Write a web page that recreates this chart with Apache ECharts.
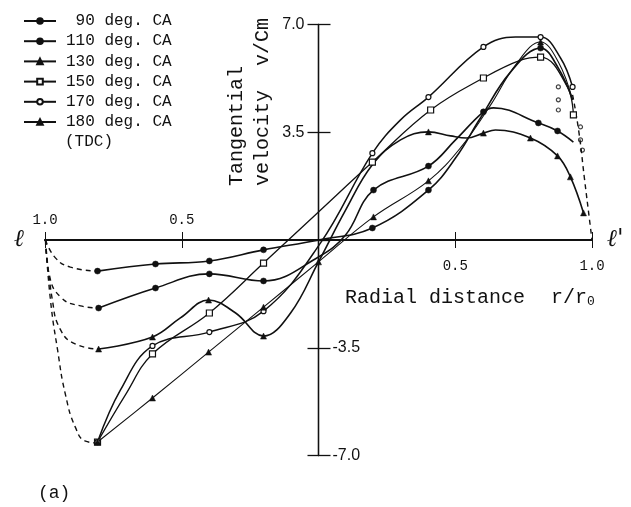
<!DOCTYPE html>
<html>
<head>
<meta charset="utf-8">
<script src="https://cdn.jsdelivr.net/npm/echarts/dist/echarts.min.js"></script>
<style>
  html, body { margin: 0; padding: 0; background: #fff; }
  #chart { width: 631px; height: 507px; }
</style>
</head>
<body>
<div id="chart"></div>
<script>
// Tangential velocity v/Cm across the cylinder, from wall l (left, r/r0 = 1.0)
// through the axis (0) to wall l' (right, r/r0 = 1.0).
// Positions are signed: negative values lie on the l side.

const seriesNames = [' 90 deg. CA', '110 deg. CA', '130 deg. CA', '150 deg. CA', '170 deg. CA', '180 deg. CA'];

const pos90  = [-0.808, -0.596, -0.399, -0.201, 0, 0.197, 0.402, 0.501, 0.592, 0.702, 0.812, 0.877, 0.929];
const vel90  = [-1.01, -0.78, -0.68, -0.32, 0, 0.39, 1.62, 2.66, 3.96, 5.45, 6.23, 5.58, 4.55];
const meas90 = [0, 1, 2, 3, 5, 6, 10];

const pos110  = [-0.804, -0.596, -0.399, -0.201, 0, 0.099, 0.201, 0.402, 0.501, 0.603, 0.640, 0.804, 0.874, 0.932];
const vel110  = [-2.21, -1.56, -1.10, -1.33, -0.55, 0.16, 1.62, 2.40, 3.25, 4.16, 4.29, 3.80, 3.54, 3.18];
const meas110 = [0, 1, 2, 3, 6, 7, 9, 11, 12];

const pos130  = [-0.804, -0.607, -0.505, -0.402, -0.303, -0.201, -0.102, 0, 0.099, 0.197, 0.300, 0.402, 0.483, 0.541, 0.603, 0.647, 0.775, 0.874, 0.921, 0.969];
const vel130  = [-3.54, -3.15, -2.53, -1.95, -2.37, -3.12, -2.37, -0.71, 0.97, 2.44, 3.25, 3.51, 3.38, 3.31, 3.47, 3.57, 3.31, 2.73, 2.05, 0.88];
const meas130 = [0, 1, 3, 5, 11, 14, 16, 17, 18, 19];

const pos150  = [-0.808, -0.706, -0.607, -0.399, -0.201, 0, 0.197, 0.410, 0.603, 0.739, 0.812, 0.910, 0.932];
const vel150  = [-6.56, -5.03, -3.70, -2.37, -0.75, 0.91, 2.53, 4.22, 5.26, 5.84, 5.94, 4.97, 4.06];
const meas150 = [0, 2, 3, 4, 6, 7, 8, 10, 12];

const pos170  = [-0.808, -0.724, -0.607, -0.399, -0.201, 0.007, 0.197, 0.300, 0.402, 0.603, 0.720, 0.812, 0.885, 0.929];
const vel170  = [-6.56, -4.87, -3.44, -2.99, -2.31, -0.10, 2.82, 3.90, 4.64, 6.27, 6.59, 6.59, 5.91, 4.97];
const meas170 = [0, 2, 3, 4, 6, 8, 9, 11, 13];

const pos180  = [-0.808, -0.607, -0.402, -0.201, 0, 0.201, 0.402, 0.519, 0.629, 0.720, 0.812, 0.877, 0.929];
const vel180  = [-6.56, -5.13, -3.64, -2.18, -0.71, 0.75, 1.92, 2.99, 4.38, 5.68, 6.43, 5.78, 4.55];
const meas180 = [0, 1, 2, 3, 4, 5, 6, 10];

// Extra measured points close to wall l'
const wallPos = [0.877, 0.877, 0.877, 0.958, 0.958, 0.965];
const wallVel = [4.97, 4.55, 4.22, 3.67, 3.25, 2.92];

// Dashed extrapolations to the walls (v = 0 at r/r0 = 1)
const dashPos1 = [-0.998, -0.962, -0.907, -0.808];
const dashVel1 = [0, -0.58, -0.88, -1.01];
const dashPos2 = [-0.998, -0.984, -0.943, -0.870, -0.804];
const dashVel2 = [0, -1.14, -1.85, -2.14, -2.21];
const dashPos3 = [-0.998, -0.973, -0.943, -0.888, -0.804];
const dashVel3 = [0, -1.95, -2.92, -3.38, -3.54];
const dashPos4 = [-0.998, -0.980, -0.954, -0.925, -0.888, -0.852, -0.808];
const dashVel4 = [0, -1.95, -3.57, -5.03, -6.10, -6.53, -6.59];
const dashPos5 = [0.929, 0.951, 0.973, 0.991, 1.0];
const dashVel5 = [4.71, 3.57, 1.95, 0.65, 0];

// Axis ticks
const vTicks = { min: -7, max: 7, step: 3.5 };
const rTicks = { min: -1, max: 1, step: 0.5 };

const INK = '#111';

// Plot frame (px); the two axes cross at the centre of it
const G = { left: 45, right: 39, top: 24.4, bottom: 51.4, w: 547, h: 431.2 };

const curves = [
  { name: seriesNames[0], pos: pos90,  vel: vel90,  meas: meas90,  symbol: 'circle',   size: 6, open: false, width: 1.6 },
  { name: seriesNames[1], pos: pos110, vel: vel110, meas: meas110, symbol: 'circle',   size: 6, open: false, width: 1.6 },
  { name: seriesNames[2], pos: pos130, vel: vel130, meas: meas130, symbol: 'triangle', size: 6, open: false, width: 1.6 },
  { name: seriesNames[3], pos: pos150, vel: vel150, meas: meas150, symbol: 'rect',     size: 6, open: true,  width: 1.3 },
  { name: seriesNames[4], pos: pos170, vel: vel170, meas: meas170, symbol: 'circle',   size: 5, open: true,  width: 1.5 },
  { name: seriesNames[5], pos: pos180, vel: vel180, meas: meas180, symbol: 'triangle', size: 6, open: false, width: 1.1 }
];

const series = curves.map(c => ({
  name: c.name,
  type: 'line',
  smooth: 0.4,
  symbol: c.symbol,
  symbolSize: c.size,
  showSymbol: true,
  xAxisIndex: 0,
  yAxisIndex: 0,
  lineStyle: { color: INK, width: c.width },
  itemStyle: { color: c.open ? '#fff' : INK, borderColor: INK, borderWidth: c.open ? 1.2 : 0.5 },
  emphasis: { disabled: true },
  data: c.pos.map((x, i) => c.meas.includes(i)
    ? [x, c.vel[i]]
    : { value: [x, c.vel[i]], symbol: 'none' })
}));

[[dashPos1, dashVel1], [dashPos2, dashVel2], [dashPos3, dashVel3], [dashPos4, dashVel4], [dashPos5, dashVel5]]
  .forEach(([p, v]) => series.push({
    type: 'line',
    smooth: 0.5,
    symbol: 'none',
    lineStyle: { color: INK, width: 1.4, type: [5, 4] },
    emphasis: { disabled: true },
    data: p.map((x, i) => [x, v[i]])
  }));

series.push({
  type: 'scatter',
  symbol: 'circle',
  symbolSize: 4,
  itemStyle: { color: '#fff', borderColor: INK, borderWidth: 1.2 },
  emphasis: { disabled: true },
  data: wallPos.map((x, i) => [x, wallVel[i]])
});

const mono = 'Liberation Mono';

const baseX = {
  type: 'value', min: rTicks.min, max: rTicks.max, interval: rTicks.step,
  splitLine: { show: false },
  offset: -G.h / 2,
  axisLine: { onZero: false, lineStyle: { color: INK, width: 1.8 } }
};
const baseY = {
  type: 'value', min: vTicks.min, max: vTicks.max, interval: vTicks.step,
  splitLine: { show: false },
  offset: -G.w / 2,
  axisLine: { onZero: false, lineStyle: { color: INK, width: 1.3 } }
};

const option = {
  backgroundColor: '#fff',
  animation: false,
  grid: { left: G.left, right: G.right, top: G.top, bottom: G.bottom, containLabel: false },
  xAxis: [
    Object.assign({}, baseX, {
      position: 'bottom',
      axisTick: { show: true, length: 8, lineStyle: { color: INK, width: 1 } },
      axisLabel: {
        margin: 19, color: INK, fontFamily: mono, fontSize: 14,
        formatter: v => v > 0 ? v.toFixed(1) : ''
      }
    }),
    Object.assign({}, baseX, {
      position: 'top',
      axisTick: { show: true, length: 8, lineStyle: { color: INK, width: 1 } },
      axisLabel: {
        margin: 13, color: INK, fontFamily: mono, fontSize: 14,
        formatter: v => v < 0 ? Math.abs(v).toFixed(1) : ''
      }
    })
  ],
  yAxis: [
    Object.assign({}, baseY, {
      position: 'left',
      axisTick: { show: true, length: 11, lineStyle: { color: INK, width: 1.3 } },
      axisLabel: {
        margin: 14, color: INK, fontFamily: 'Liberation Sans', fontSize: 16,
        formatter: v => v > 0 ? v.toFixed(1) : ''
      }
    }),
    Object.assign({}, baseY, {
      position: 'right',
      axisTick: { show: true, length: 12, lineStyle: { color: INK, width: 1.3 } },
      axisLabel: {
        margin: 14, color: INK, fontFamily: 'Liberation Sans', fontSize: 16,
        formatter: v => v < 0 ? v.toFixed(1) : ''
      }
    })
  ],
  legend: {
    data: seriesNames,
    orient: 'vertical',
    left: 23, top: 13, padding: 0,
    itemWidth: 32, itemHeight: 7, itemGap: 4.2,
    selectedMode: false,
    textStyle: { fontFamily: mono, fontSize: 16, lineHeight: 16, color: INK, padding: [0, 0, 0, 5] }
  },
  graphic: [
    { type: 'text', left: 65, top: 134, style: { text: '(TDC)', font: '16px "Liberation Mono"', fill: INK } },
    { type: 'text', x: 237, y: 186, rotation: Math.PI / 2,
      style: { text: 'Tangential', font: '20px "Liberation Mono"', fill: INK, textAlign: 'left', textVerticalAlign: 'middle' } },
    { type: 'text', x: 263, y: 186, rotation: Math.PI / 2,
      style: { text: 'velocity  v/Cm', font: '20px "Liberation Mono"', fill: INK, textAlign: 'left', textVerticalAlign: 'middle' } },
    { type: 'text', x: 345, y: 298,
      style: { text: 'Radial distance', font: '20px "Liberation Mono"', fill: INK, textVerticalAlign: 'middle' } },
    { type: 'text', x: 551, y: 298,
      style: { text: 'r/r{s|0}', font: '20px "Liberation Mono"', fill: INK, textVerticalAlign: 'middle',
               rich: { s: { font: '13px "Liberation Mono"', fill: INK, padding: [8, 0, 0, 0] } } } },
    { type: 'text', x: 14, y: 240,
      style: { text: 'ℓ', font: 'italic 24px "DejaVu Serif"', fill: INK, textVerticalAlign: 'middle' } },
    { type: 'text', x: 607, y: 240,
      style: { text: "ℓ'", font: 'italic 24px "DejaVu Serif"', fill: INK, textVerticalAlign: 'middle' } },
    { type: 'text', x: 38, y: 493,
      style: { text: '(a)', font: '18px "Liberation Mono"', fill: INK, textVerticalAlign: 'middle' } }
  ],
  series: series
};

const chart = echarts.init(document.getElementById('chart'), null, { renderer: 'canvas' });
chart.setOption(option);
</script>
</body>
</html>
